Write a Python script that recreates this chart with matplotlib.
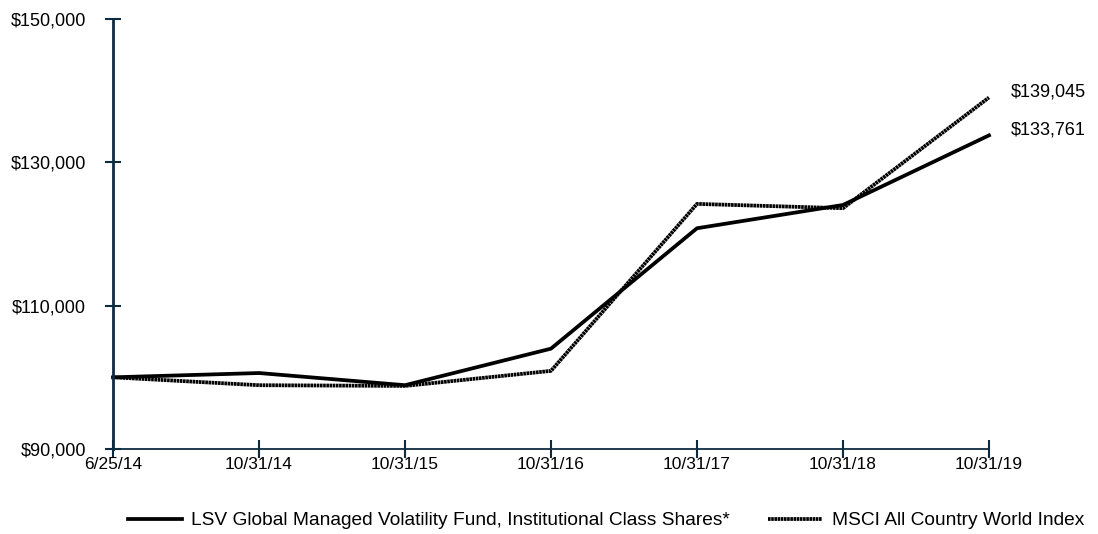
import matplotlib.pyplot as plt
from matplotlib.ticker import FuncFormatter

# Datos (valor de una inversión de $100,000)
fechas = ["6/25/14", "10/31/14", "10/31/15", "10/31/16", "10/31/17", "10/31/18", "10/31/19"]
fondo = [100000, 100600, 98900, 104000, 120800, 124050, 133761]
indice = [100000, 98900, 98800, 100900, 124200, 123600, 139045]
nombre_fondo = "LSV Global Managed Volatility Fund, Institutional Class Shares*"
nombre_indice = "MSCI All Country World Index"
y_ticks = [90000, 110000, 130000, 150000]

plt.rcParams['font.family'] = ['Liberation Sans', 'DejaVu Sans']
eje_color = '#0d2b3e'

fig = plt.figure(figsize=(10.98, 5.34), dpi=100)
ax = fig.add_axes([0.1029, 0.1592, 0.7978, 0.8052])

x = list(range(len(fechas)))
ax.plot(x, fondo, color='black', lw=2.7, clip_on=False, label=nombre_fondo)
ax.plot(x, indice, color='black', lw=2.7, ls=(0, (0.7, 0.15)), clip_on=False,
        label=nombre_indice, dash_capstyle='butt')

ax.set_xlim(0, len(fechas) - 1)
ax.set_ylim(90000, 150000)
ax.set_xticks(x)
ax.set_xticklabels(fechas)
ax.set_yticks(y_ticks)
ax.yaxis.set_major_formatter(FuncFormatter(lambda v, p: f"${v:,.0f}"))

for lado in ['top', 'right']:
    ax.spines[lado].set_visible(False)
ax.spines['left'].set_color(eje_color)
ax.spines['left'].set_linewidth(2)
ax.spines['bottom'].set_color(eje_color)
ax.spines['bottom'].set_linewidth(1.3)
ax.tick_params(axis='y', direction='inout', length=11, width=1.5, color=eje_color,
               labelsize=13, pad=14)
ax.tick_params(axis='x', direction='inout', length=13, width=1.5, color=eje_color,
               labelsize=12.5, pad=-1)

# Etiquetas de valor final
ax.annotate(f"${indice[-1]:,}", (x[-1], indice[-1]), xytext=(16, 4),
            textcoords='offset points', fontsize=13, va='center', ha='left')
ax.annotate(f"${fondo[-1]:,}", (x[-1], fondo[-1]), xytext=(16, 4),
            textcoords='offset points', fontsize=13, va='center', ha='left')

fig.legend(loc='center', bbox_to_anchor=(0.552, 0.025), ncol=2, frameon=False,
           fontsize=13.8, handlelength=2.8, handletextpad=0.5, columnspacing=2.0)

fig.savefig("out.png", dpi=100)
